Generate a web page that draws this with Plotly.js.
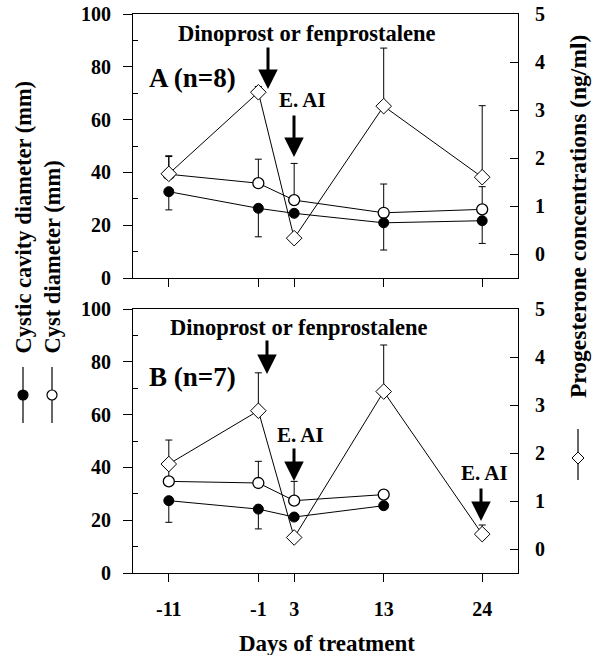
<!DOCTYPE html>
<html>
<head>
<meta charset="utf-8">
<script src="https://cdn.plot.ly/plotly-3.0.1.min.js"></script>
<style>html,body{margin:0;padding:0;background:#fff;}#chart{width:606px;height:655px;}</style>
</head>
<body>
<div id="chart"></div>
<script>
// ---- data ----
const days = [-11, -1, 3, 13, 24];
const daysB = [-11, -1, 3, 13];
const tickLabels = ['-11', '-1', '3', '13', '24'];

// Panel A (n=8)
const cystA = [39.3, 35.9, 29.5, 24.7, 26.0];
const cystAErrUp = [7.0, 9.1, 13.9, 10.9, 8.6];
const cavityA = [32.7, 26.4, 24.5, 20.9, 21.7];
const cavityAErrDown = [6.9, 10.8, 0, 10.3, 8.6];
const progA = [1.67, 3.37, 0.33, 3.08, 1.60];
const progAErrUp = [0.36, 0.12, 0, 1.21, 1.49];

// Panel B (n=7)
const cystB = [34.7, 34.1, 27.4, 29.7];
const cystBErrUp = [8.2, 8.2, 7.3, 0];
const cavityB = [27.4, 24.2, 21.2, 25.5];
const cavityBErrDown = [8.2, 7.5, 0, 0];
const progB = [1.77, 2.88, 0.24, 3.28, 0.31];
const progBErrUp = [0.50, 0.79, 0, 0.97, 0.19];

// ---- styling ----
const FONT = 'Liberation Serif, Times New Roman, serif';
const W = 606, H = 655;
const M = {l: 133, r: 88, t: 14, b: 82};
const PW = W - M.l - M.r, PH = H - M.t - M.b;
const px = x => (x - M.l) / PW;
const py = y => (H - M.b - y) / PH;

function zeros(n) { return new Array(n).fill(0); }

function cystTrace(x, y, up, xa, ya) {
  return {x: x, y: y, xaxis: xa, yaxis: ya, type: 'scatter', mode: 'lines+markers',
    line: {color: '#000', width: 1},
    marker: {symbol: 'circle', size: 11, color: '#fff', line: {color: '#000', width: 1.3}},
    error_y: {type: 'data', symmetric: false, array: up, arrayminus: zeros(up.length),
      color: '#000', thickness: 1, width: 3.5},
    showlegend: false, hoverinfo: 'skip'};
}
function cavityTrace(x, y, down, xa, ya) {
  return {x: x, y: y, xaxis: xa, yaxis: ya, type: 'scatter', mode: 'lines+markers',
    line: {color: '#000', width: 1},
    marker: {symbol: 'circle', size: 10, color: '#000', line: {color: '#000', width: 1}},
    error_y: {type: 'data', symmetric: false, array: zeros(down.length), arrayminus: down,
      color: '#000', thickness: 1, width: 3.5},
    showlegend: false, hoverinfo: 'skip'};
}
function progTrace(x, y, up, xa, ya) {
  return {x: x, y: y, xaxis: xa, yaxis: ya, type: 'scatter', mode: 'lines+markers',
    line: {color: '#000', width: 1},
    marker: {symbol: 'diamond', size: 12, color: '#fff', line: {color: '#000', width: 1}},
    error_y: {type: 'data', symmetric: false, array: up, arrayminus: zeros(up.length),
      color: '#000', thickness: 1, width: 3.5},
    showlegend: false, hoverinfo: 'skip'};
}

const data = [
  cystTrace(days, cystA, cystAErrUp, 'x', 'y'),
  cavityTrace(days, cavityA, cavityAErrDown, 'x', 'y'),
  progTrace(days, progA, progAErrUp, 'x', 'y2'),
  cystTrace(daysB, cystB, cystBErrUp, 'x2', 'y3'),
  cavityTrace(daysB, cavityB, cavityBErrDown, 'x2', 'y3'),
  progTrace(days, progB, progBErrUp, 'x2', 'y4')
];

const tickFont = {family: FONT, size: 20, color: '#000', weight: 'bold'};
const topDom = [py(278), 1];
const botDom = [0, py(309)];

function xAxis(anchor, labels) {
  return {anchor: anchor, domain: [0, 1], range: [-15, 28], tickvals: days, ticktext: tickLabels,
    showticklabels: labels, ticks: 'outside', ticklen: 8, tickwidth: 1, tickcolor: '#000',
    showline: true, linecolor: '#000', linewidth: 1, mirror: true, showgrid: false, zeroline: false,
    tickfont: tickFont, ticklabelstandoff: 10};
}
function leftAxis(anchor, dom) {
  return {anchor: anchor, domain: dom, range: [0, 100], tickvals: [0, 20, 40, 60, 80, 100],
    ticks: 'outside', ticklen: 9, tickwidth: 1, tickcolor: '#000',
    minor: {tickvals: [10, 30, 50, 70, 90], ticks: 'inside', ticklen: 5, tickcolor: '#000', tickwidth: 1, showgrid: false},
    showline: true, linecolor: '#000', linewidth: 1, showgrid: false, zeroline: false,
    tickfont: tickFont, ticklabelstandoff: 8};
}
function rightAxis(anchor, over) {
  return {anchor: anchor, overlaying: over, side: 'right', range: [-0.5, 5], tickvals: [0, 1, 2, 3, 4, 5],
    ticks: 'inside', ticklen: 8, tickwidth: 1, tickcolor: '#000',
    showline: true, linecolor: '#000', linewidth: 1, showgrid: false, zeroline: false,
    tickfont: tickFont, ticklabelstandoff: 12};
}

function txt(text, x, y, size, opts) {
  return Object.assign({text: '<b>' + text + '</b>', xref: 'paper', yref: 'paper', x: px(x), y: py(y),
    xanchor: 'center', yanchor: 'middle', showarrow: false, borderpad: 0,
    font: {family: FONT, size: size, color: '#000'}}, opts || {});
}
function arrow(x, y0, y1) {
  return {text: '', xref: 'paper', yref: 'paper', x: px(x), y: py(y1),
    axref: 'pixel', ayref: 'pixel', ax: 0, ay: -(y1 - y0),
    showarrow: true, arrowhead: 2, arrowsize: 1.3, arrowwidth: 3, arrowcolor: '#000', standoff: 0};
}

const annotations = [
  txt('Dinoprost or fenprostalene', 307, 33, 22.5),
  arrow(268, 46, 89),
  txt('A (n=8)', 237, 78, 27, {xanchor: 'right'}),
  txt('E. AI', 302, 100, 21),
  arrow(294, 114, 157),
  txt('Dinoprost or fenprostalene', 299, 327, 22.5),
  arrow(267, 339, 374),
  txt('B (n=7)', 237, 377, 27, {xanchor: 'right'}),
  txt('E. AI', 300, 435, 21),
  arrow(294, 447, 481),
  txt('E. AI', 484, 473, 21),
  arrow(481, 487, 521),
  txt('Days of treatment', 327, 643, 23),
  txt('Cystic cavity diameter (mm)', 23, 355, 22.5, {textangle: -90, yanchor: 'bottom'}),
  txt('Cyst diameter (mm)', 52, 355, 22.5, {textangle: -90, yanchor: 'bottom'}),
  txt('Progesterone concentrations (ng/ml)', 578, 217, 23.5, {textangle: -90})
];

// legend keys drawn beside the axis titles
const shapes = [];
function keyLine(x, y0, y1) {
  shapes.push({type: 'line', xref: 'paper', yref: 'paper', x0: px(x), x1: px(x), y0: py(y0), y1: py(y1),
    line: {color: '#000', width: 1.2}});
}
function keyCircle(x, y, r, fill) {
  shapes.push({type: 'circle', xref: 'paper', yref: 'paper', x0: px(x - r), x1: px(x + r), y0: py(y + r), y1: py(y - r),
    fillcolor: fill, line: {color: '#000', width: 1.2}});
}
function keyDiamond(x, y, r) {
  const p = 'M' + px(x) + ',' + py(y - r) + ' L' + px(x + r) + ',' + py(y) + ' L' + px(x) + ',' + py(y + r) +
    ' L' + px(x - r) + ',' + py(y) + ' Z';
  shapes.push({type: 'path', xref: 'paper', yref: 'paper', path: p, fillcolor: '#fff', line: {color: '#000', width: 1}});
}
keyLine(23, 367, 423); keyCircle(23, 395, 5, '#000');
keyLine(52, 367, 423); keyCircle(52, 395, 5, '#fff');
keyLine(578, 429, 480); keyDiamond(578, 458, 6);

const layout = {
  width: W, height: H, margin: M, paper_bgcolor: '#fff', plot_bgcolor: '#fff',
  showlegend: false, font: {family: FONT, color: '#000'},
  xaxis: xAxis('y', false),
  yaxis: leftAxis('x', topDom),
  yaxis2: rightAxis('x', 'y'),
  xaxis2: xAxis('y3', true),
  yaxis3: leftAxis('x2', botDom),
  yaxis4: rightAxis('x2', 'y3'),
  annotations: annotations,
  shapes: shapes
};

Plotly.newPlot('chart', data, layout, {staticPlot: true, displayModeBar: false});
</script>
</body>
</html>
